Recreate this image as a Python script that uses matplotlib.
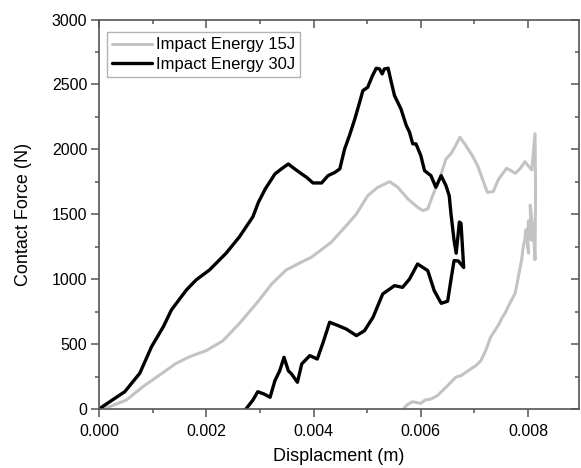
import matplotlib
matplotlib.use("Agg")
import matplotlib.pyplot as plt
from matplotlib.ticker import MultipleLocator, FormatStrFormatter

plt.rcParams['font.family'] = ['Liberation Sans', 'DejaVu Sans']

# Impact energy 15 J: loading branch followed by the unloading branch
disp_15j = [0.0, 0.0002, 0.00051, 0.00082, 0.00113, 0.00144, 0.00169, 0.0020,
            0.00231, 0.00262, 0.00295, 0.00322, 0.00349, 0.00373, 0.00396, 0.00433,
            0.00461, 0.0048, 0.00501, 0.0052, 0.00542, 0.00557, 0.00576, 0.00594,
            0.00604, 0.00613, 0.00622, 0.00635, 0.00647, 0.00656, 0.00665, 0.00673,
            0.00684, 0.00696, 0.00706, 0.00715, 0.00724, 0.00735, 0.00745, 0.0076,
            0.00768, 0.00776, 0.00785, 0.00794, 0.00801, 0.00807, 0.00813, 0.00814,
            0.00813, 0.00810, 0.00808, 0.00804, 0.00806, 0.00801, 0.00799, 0.00801,
            0.00796, 0.00794, 0.00791, 0.00788, 0.00782, 0.00776, 0.00766, 0.00757,
            0.00751, 0.00746, 0.0073, 0.00722, 0.00712, 0.00703, 0.00693, 0.00675,
            0.00665, 0.0065, 0.00631, 0.00619, 0.00608, 0.006, 0.00592, 0.00584,
            0.00578, 0.00574, 0.00568]
force_15j = [0, 18, 69, 172, 262, 352, 403, 450,
             525, 660, 820, 963, 1071, 1122, 1169, 1284,
             1412, 1502, 1643, 1708, 1751, 1708, 1618, 1554,
             1528, 1541, 1643, 1772, 1926, 1965, 2029, 2093,
             2029, 1952, 1874, 1772, 1669, 1674, 1770, 1854,
             1836, 1815, 1850, 1905, 1870, 1841, 2120, 1700,
             1150, 1350, 1420, 1570, 1300, 1450, 1330, 1200,
             1380, 1300, 1250, 1148, 1019, 891, 814, 737,
             699, 655, 552, 460, 372, 335, 308, 257,
             244, 180, 103, 77, 69, 44, 50, 56,
             40, 31, 0]

# Impact energy 30 J: loading branch, rebound loop and unloading branch
disp_30j = [0.0, 0.0002, 0.00048, 0.00076, 0.00098, 0.0012, 0.00135, 0.00163,
            0.00181, 0.00206, 0.00237, 0.00262, 0.00287, 0.00297, 0.0031, 0.00328,
            0.0034, 0.00353, 0.00365, 0.00378, 0.00387, 0.00399, 0.00415, 0.00427,
            0.0044, 0.00449, 0.00458, 0.00467, 0.00477, 0.00486, 0.00492, 0.00501,
            0.0051, 0.00517, 0.00523, 0.00528, 0.00532, 0.00539, 0.00545, 0.00551,
            0.00563, 0.00573, 0.00579, 0.00585, 0.00591, 0.006, 0.00607, 0.00619,
            0.00628, 0.00638, 0.00647, 0.00653, 0.00656, 0.00662, 0.00666, 0.00672,
            0.00675, 0.0068, 0.0067, 0.00662, 0.00656, 0.0065, 0.00638, 0.00625,
            0.00613, 0.00594, 0.00579, 0.00566, 0.00551, 0.00529, 0.00511, 0.00495,
            0.0048, 0.00461, 0.00446, 0.0043, 0.00418, 0.00407, 0.00393, 0.00378,
            0.0037, 0.00359, 0.00353, 0.00345, 0.00337, 0.00328, 0.00319, 0.00308,
            0.00296, 0.00287, 0.00274]
force_30j = [0, 56, 133, 275, 480, 634, 763, 917,
             994, 1071, 1200, 1327, 1481, 1590, 1695, 1810,
             1849, 1887, 1849, 1810, 1785, 1741, 1741, 1797,
             1823, 1849, 2003, 2106, 2234, 2363, 2452, 2478,
             2568, 2625, 2619, 2581, 2619, 2625, 2517, 2414,
             2311, 2183, 2132, 2042, 2042, 1952, 1836, 1797,
             1708, 1797, 1720, 1643, 1515, 1300, 1200, 1440,
             1430, 1090, 1140, 1143, 988, 830, 814, 912,
             1066, 1117, 1001, 937, 950, 886, 707, 603,
             565, 616, 642, 668, 514, 385, 411, 347,
             206, 270, 295, 398, 295, 218, 90, 115,
             133, 69, 0]

series = [("Impact Energy 15J", disp_15j, force_15j, "#c3c3c3", 2.2),
          ("Impact Energy 30J", disp_30j, force_30j, "#000000", 2.4)]

fig = plt.figure(figsize=(5.81, 4.68), dpi=100)
ax = fig.add_axes([99 / 581, 59 / 468, 480 / 581, 389.5 / 468])

for label, x, y, color, lw in series:
    ax.plot(x, y, color=color, lw=lw, label=label,
            solid_joinstyle="round", solid_capstyle="round")

ax.set_xlim(0, 0.00895)
ax.set_ylim(0, 3000)

ax.xaxis.set_major_locator(MultipleLocator(0.002))
ax.xaxis.set_minor_locator(MultipleLocator(0.001))
ax.xaxis.set_major_formatter(FormatStrFormatter("%.3f"))
ax.yaxis.set_major_locator(MultipleLocator(500))
ax.yaxis.set_minor_locator(MultipleLocator(250))

spine_color = "#555555"
for s in ax.spines.values():
    s.set_color(spine_color)
    s.set_linewidth(1.2)

ax.tick_params(which="both", top=True, right=True, color=spine_color, width=1.1)
ax.tick_params(which="major", length=5.5, labelsize=11.5)
ax.tick_params(which="minor", length=3)
ax.tick_params(axis="y", which="major", pad=3)
ax.tick_params(axis="x", which="major", pad=5)
# outward ticks on bottom/left, inward on top/right
for t in ax.xaxis.get_major_ticks() + ax.xaxis.get_minor_ticks():
    t.tick1line.set_marker(matplotlib.lines.TICKDOWN)
    t.tick2line.set_marker(matplotlib.lines.TICKDOWN)
for t in ax.yaxis.get_major_ticks() + ax.yaxis.get_minor_ticks():
    t.tick1line.set_marker(matplotlib.lines.TICKLEFT)
    t.tick2line.set_marker(matplotlib.lines.TICKLEFT)

ax.set_xlabel("Displacment (m)", fontsize=13, labelpad=7)
ax.set_ylabel("Contact Force (N)", fontsize=13, labelpad=14)

leg = ax.legend(loc="upper left", bbox_to_anchor=(0.016, 0.967), fontsize=12,
                frameon=True, fancybox=False, edgecolor="#a0a0a0",
                borderpad=0.3, handlelength=2.4, handletextpad=0.25,
                labelspacing=0.28, borderaxespad=0)
leg.get_frame().set_linewidth(1.0)

fig.savefig("out.png", dpi=100)
